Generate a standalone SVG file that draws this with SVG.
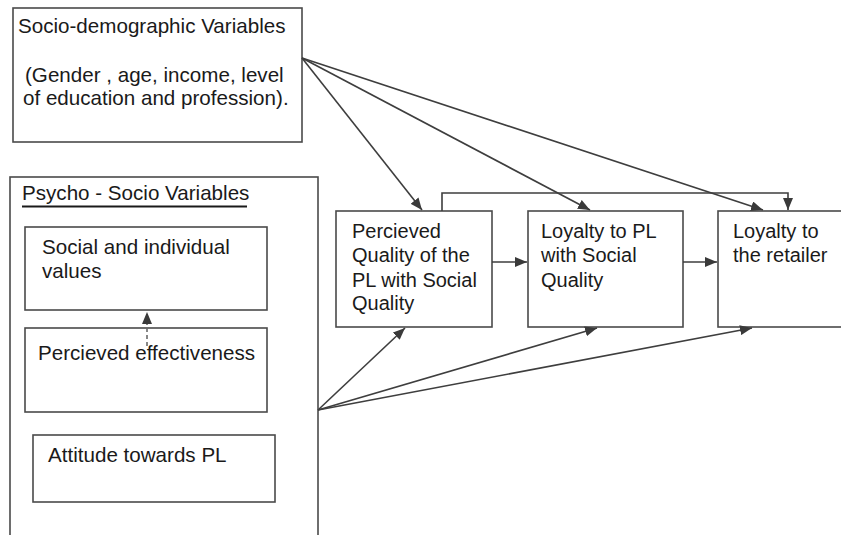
<svg xmlns="http://www.w3.org/2000/svg" width="841" height="535" viewBox="0 0 841 535">
  <defs>
    <marker id="arrow" viewBox="0 0 12 10" refX="12" refY="5" markerWidth="12" markerHeight="10" markerUnits="userSpaceOnUse" orient="auto">
      <path d="M0,0 L12,5 L0,10 Z" fill="#3a3a3a"/>
    </marker>
    <style>
      .box { fill: #ffffff; stroke: #4a4a4a; stroke-width: 1.6; }
      .lbl { font-family: "Liberation Sans", Arial, sans-serif; font-size: 20px; fill: #1a1a1a; }
      .lbl.wide { font-size: 20.6px; }
      .edge { fill: none; stroke: #3e3e3e; stroke-width: 1.6; marker-end: url(#arrow); }
      .dash { fill: none; stroke: #6a6a6a; stroke-width: 1.6; stroke-dasharray: 4 3; marker-end: url(#arrow); }
    </style>
  </defs>
  <rect width="841" height="535" fill="#ffffff"/>

  <g id="socio-demographic">
    <rect class="box" x="13" y="8" width="289" height="134"/>
    <text class="lbl wide" x="18" y="33">Socio-demographic Variables</text>
    <text class="lbl wide" x="25" y="82">(Gender , age, income, level</text>
    <text class="lbl wide" x="23" y="105">of education and profession).</text>
  </g>

  <g id="psycho-socio">
    <rect class="box" x="10" y="177" width="308" height="370"/>
    <text class="lbl wide" x="22" y="200">Psycho - Socio Variables</text>
    <line x1="22" y1="206.5" x2="247" y2="206.5" stroke="#1a1a1a" stroke-width="2"/>
  </g>

  <g id="social-values">
    <rect class="box" x="25" y="227" width="242" height="83"/>
    <text class="lbl wide" x="42" y="254">Social and individual</text>
    <text class="lbl wide" x="42" y="278">values</text>
  </g>

  <g id="effectiveness">
    <rect class="box" x="25" y="328" width="242" height="84"/>
    <text class="lbl wide" x="38" y="360">Percieved effectiveness</text>
  </g>

  <g id="attitude">
    <rect class="box" x="33" y="435" width="242" height="67"/>
    <text class="lbl wide" x="48" y="462">Attitude towards PL</text>
  </g>

  <g id="perceived-quality">
    <rect class="box" x="336" y="211" width="156" height="116"/>
    <text class="lbl" x="352" y="238">Percieved</text>
    <text class="lbl" x="352" y="262">Quality of the</text>
    <text class="lbl" x="352" y="287">PL with Social</text>
    <text class="lbl" x="352" y="310">Quality</text>
  </g>

  <g id="loyalty-pl">
    <rect class="box" x="528" y="211" width="155" height="116"/>
    <text class="lbl" x="541" y="238">Loyalty to PL</text>
    <text class="lbl" x="541" y="262">with Social</text>
    <text class="lbl" x="541" y="287">Quality</text>
  </g>

  <g id="loyalty-retailer">
    <rect class="box" x="718" y="211" width="140" height="116"/>
    <text class="lbl" x="733" y="238">Loyalty to</text>
    <text class="lbl" x="733" y="262">the retailer</text>
  </g>

  <g id="connectors">
    <!-- fan from socio-demographic variables -->
    <line class="edge" x1="302" y1="58" x2="422" y2="210"/>
    <line class="edge" x1="302" y1="58" x2="590" y2="210"/>
    <line class="edge" x1="302" y1="58" x2="763" y2="210"/>
    <!-- elbow from perceived quality to retailer loyalty -->
    <path class="edge" d="M442,211 V193 H788 V210"/>
    <!-- chain -->
    <line class="edge" x1="492" y1="262" x2="527" y2="262"/>
    <line class="edge" x1="683" y1="262" x2="717" y2="262"/>
    <!-- fan from psycho-socio variables -->
    <line class="edge" x1="318" y1="410" x2="405" y2="328"/>
    <line class="edge" x1="318" y1="410" x2="597" y2="328"/>
    <line class="edge" x1="318" y1="410" x2="752" y2="328"/>
    <!-- effectiveness to values -->
    <line class="dash" x1="147" y1="346" x2="147" y2="312"/>
  </g>
</svg>
